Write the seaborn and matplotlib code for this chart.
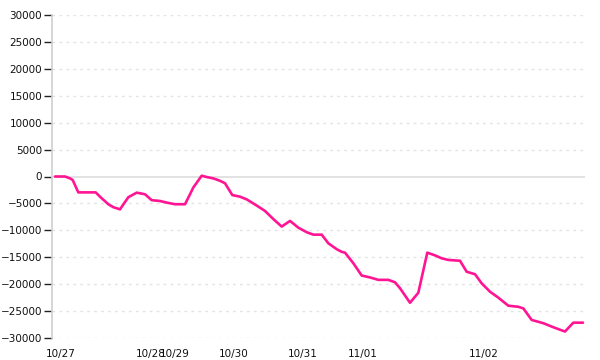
import matplotlib
matplotlib.use("Agg")
import matplotlib.pyplot as plt
import seaborn as sns
import pandas as pd

# x positions (session index units) and cumulative values
t = [0, 10, 15, 17.7, 23.3, 40.7, 45, 53.3, 58.3, 65, 73.3, 81.7, 90, 96.7, 105, 111.7,
     120, 130, 135, 138.3, 146.7, 151.7, 158.3, 165, 170, 177.3, 185, 191.7, 201.7, 210,
     218.3, 226.7, 235, 243.3, 251.7, 258.3, 266.7, 273.3, 281.7, 286.7, 290, 298.3,
     306.7, 315, 323.3, 333.3, 340, 345, 355, 363.3, 372.3, 380, 386.7, 393.3, 405,
     411.7, 420, 426.7, 435, 443.3, 453.3, 463.3, 468.3, 476.7, 488.3, 498.3, 510,
     518.3, 528]
v = [0, 0, -350, -650, -2950, -2950, -3750, -5150, -5700, -6100, -3850, -3000, -3300,
     -4400, -4550, -4850, -5150, -5150, -3300, -2050, 150, -100, -350, -800, -1250,
     -3450, -3750, -4250, -5400, -6400, -7900, -9300, -8250, -9500, -10350, -10800,
     -10800, -12400, -13500, -14000, -14150, -16100, -18400, -18750, -19200, -19200,
     -19650, -20750, -23450, -21600, -14150, -14650, -15200, -15500, -15650, -17700,
     -18150, -19850, -21400, -22500, -24000, -24200, -24500, -26650, -27250, -28000,
     -28800, -27150, -27150]

tick_pos = [6, 96, 120, 179, 248, 308, 429]
tick_labels = ["10/27", "10/28", "10/29", "10/30", "10/31", "11/01", "11/02"]
y_ticks = list(range(-30000, 30001, 5000))

df = pd.DataFrame({"t": t, "v": v})

sns.set_style("white")
plt.rcParams["font.family"] = ["DejaVu Sans"]

fig = plt.figure(figsize=(6, 3.6), dpi=100)
ax = fig.add_axes([52/600, 1 - 338/360, (585 - 52)/600, (338 - 15)/360])

for yv in y_ticks:
    if yv == 0:
        ax.axhline(yv, color="#dddddd", lw=1.2, zorder=1)
    else:
        ax.axhline(yv, color="#e4e4e4", lw=1.0, ls=(0, (2, 3)), zorder=1)

sns.lineplot(data=df, x="t", y="v", color="#ff1493", lw=1.9, ax=ax, zorder=3)

ax.set_xlim(-3, 530)
ax.set_ylim(-30000, 30000)
ax.set_yticks(y_ticks)
ax.set_yticklabels([str(y).replace("-", "\u2212") for y in y_ticks])
ax.set_xticks(tick_pos)
ax.set_xticklabels(tick_labels)
ax.set_xlabel("")
ax.set_ylabel("")

for s in ["top", "right", "bottom"]:
    ax.spines[s].set_visible(False)
ax.spines["left"].set_color("#d0d0d0")
ax.spines["left"].set_linewidth(1.2)

ax.tick_params(axis="y", left=True, length=6, width=1.0, color="#222222", labelsize=7.5,
               labelcolor="#111111", pad=1)
ax.tick_params(axis="x", bottom=False, length=0, labelsize=7.5, labelcolor="#111111", pad=8)

fig.savefig("out.png", dpi=100)
